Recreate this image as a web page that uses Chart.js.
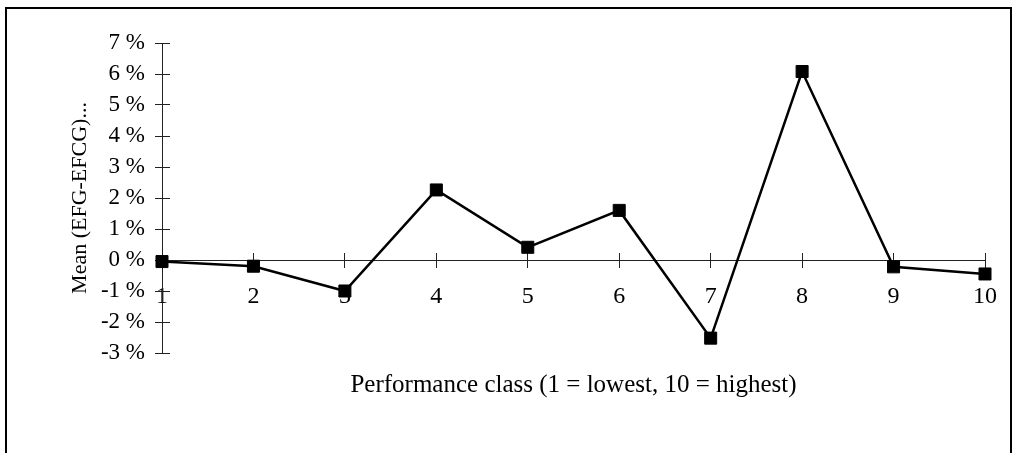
<!DOCTYPE html>
<html lang="en">
<head>
  <meta charset="UTF-8" />
  <title>Mean (EFG-EFCG) by performance class</title>
  <script src="https://cdn.jsdelivr.net/npm/chart.js"></script>
  <style>
    html, body { margin: 0; padding: 0; background: #fff; }
    #wrap { width: 1013px; height: 453px; }
  </style>
</head>
<body>
  <div id="wrap"><canvas id="meanChart"></canvas></div>

  <script>
    // values (percent)
    const classLabels = ['1', '2', '3', '4', '5', '6', '7', '8', '9', '10'];
    const meanDiff = [-0.05, -0.2, -1.0, 2.26, 0.41, 1.6, -2.52, 6.08, -0.22, -0.45];
    const yMin = -3;
    const yMax = 7;
    const yStep = 1;

    const serif = "'Liberation Serif', 'Times New Roman', serif";

    // frame around the whole figure
    const framePlugin = {
      id: 'frame',
      beforeDraw(chart) {
        const ctx = chart.ctx;
        ctx.save();
        ctx.strokeStyle = '#000';
        ctx.lineWidth = 2;
        ctx.strokeRect(6, 8, chart.width - 8, chart.height + 10);
        ctx.restore();
      }
    };

    new Chart(document.getElementById('meanChart'), {
      type: 'line',
      data: {
        labels: classLabels,
        datasets: [{
          data: meanDiff,
          borderColor: '#000',
          borderWidth: 2.5,
          tension: 0,
          fill: false,
          pointStyle: 'rect',
          pointRadius: 8.5,
          pointBackgroundColor: '#000',
          pointBorderColor: '#000',
          pointBorderWidth: 1
        }]
      },
      options: {
        responsive: true,
        maintainAspectRatio: false,
        animation: false,
        layout: { padding: { left: 40, right: 28, top: 43, bottom: 0 } },
        plugins: {
          legend: { display: false },
          tooltip: { enabled: false },
          title: {
            display: true,
            position: 'bottom',
            fullSize: false,
            text: 'Performance class (1 = lowest, 10 = highest)',
            color: '#000',
            font: { family: serif, size: 25, weight: 'normal' },
            padding: { top: 17, bottom: 53 }
          }
        },
        scales: {
          x: {
            type: 'category',
            position: { y: 0 },
            offset: false,
            afterFit: s => { s.height = 0; },
            border: {
              color: '#222',
              width: 1,
              // short stub above the zero line so the tick crosses the axis
              dash: ctx => {
                const c = ctx.chart;
                if (!c.chartArea || !c.scales.y) return [];
                const gap = c.scales.y.getPixelForValue(0) - c.chartArea.top - 7;
                return [0, gap, 7, 3000];
              }
            },
            grid: {
              drawOnChartArea: true,
              color: '#222',
              lineWidth: 1,
              tickLength: 7,
              tickColor: '#222'
            },
            ticks: {
              color: '#000',
              font: { family: serif, size: 24 },
              padding: 15,
              maxRotation: 0,
              autoSkip: false
            }
          },
          y: {
            min: yMin,
            max: yMax,
            afterFit: s => { s.width = 122; },
            border: { color: '#222', width: 1, dash: [7, 3000] },
            grid: {
              drawOnChartArea: true,
              color: '#222',
              lineWidth: 1,
              tickLength: 7,
              tickColor: '#222'
            },
            ticks: {
              stepSize: yStep,
              color: '#000',
              font: { family: serif, size: 23 },
              padding: 10,
              callback: v => v + ' %'
            },
            title: {
              display: true,
              text: 'Mean (EFG-EFCG)...',
              color: '#000',
              font: { family: serif, size: 22 },
              padding: { top: 27, bottom: 0 }
            }
          }
        }
      },
      plugins: [framePlugin]
    });
  </script>
</body>
</html>
